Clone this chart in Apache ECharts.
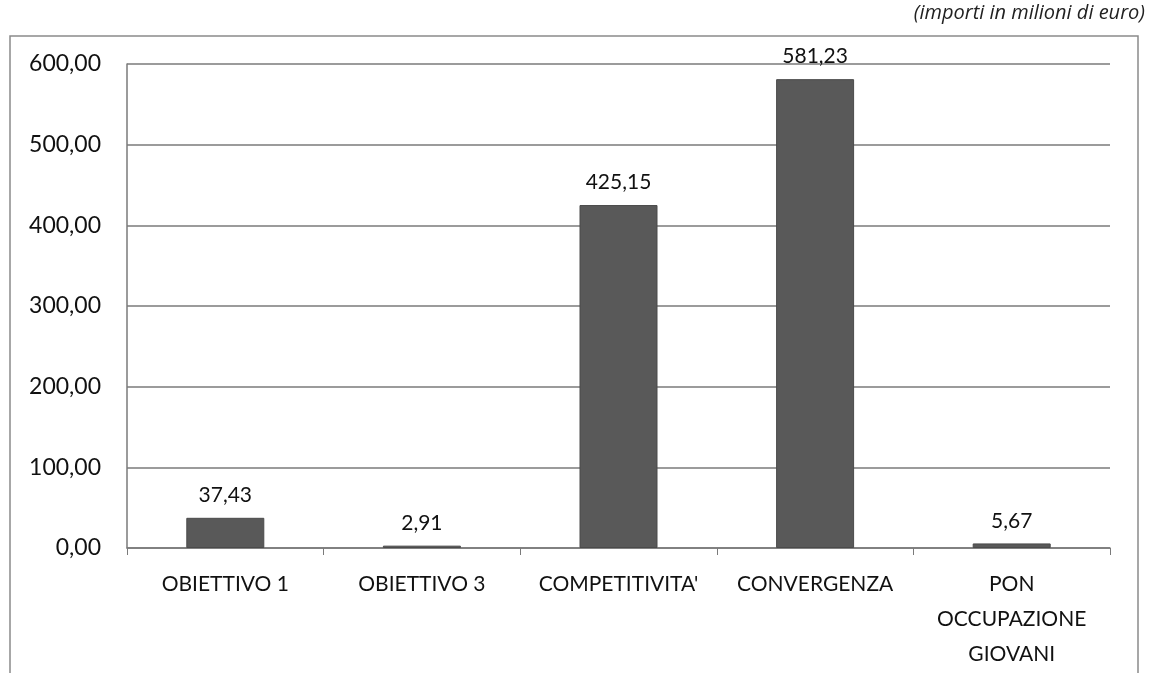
<!DOCTYPE html>
<html><head><meta charset="utf-8">
<script src="https://cdn.jsdelivr.net/npm/echarts@6/dist/echarts.min.js"></script>
<style>html,body{margin:0;padding:0;background:#fff}#c{width:1150px;height:673px}</style>
</head><body><div id="c"></div>
<script>
const categories = ["OBIETTIVO 1", "OBIETTIVO 3", "COMPETITIVITA'", "CONVERGENZA", "PON\nOCCUPAZIONE\nGIOVANI"];
const values = [37.43, 2.91, 425.15, 581.23, 5.67];
const yTicks = [0, 100, 200, 300, 400, 500, 600];
const unitNote = "(importi in milioni di euro)";

const fmt = v => v.toFixed(2).replace('.', ',');
const chart = echarts.init(document.getElementById('c'));
chart.setOption({
  animation: false,
  backgroundColor: '#fff',
  textStyle: { fontFamily: 'Lato, "Open Sans", sans-serif' },
  graphic: [
    { type: 'rect', shape: { x: 10, y: 36, width: 1128, height: 660 }, style: { fill: 'none', stroke: '#8a8a8a', lineWidth: 1.5 }, silent: true },
    { type: 'text', right: 5, top: 3, style: { text: unitNote, font: 'italic 20px "Open Sans", sans-serif', fill: '#222' } }
  ],
  grid: { left: 127, right: 40, top: 64, bottom: 125, containLabel: false },
  xAxis: {
    type: 'category', data: categories,
    axisLine: { lineStyle: { color: '#7a7a7a', width: 1.5 } },
    axisTick: { show: true, length: 7, lineStyle: { color: '#7a7a7a' } },
    axisLabel: { color: '#111', fontSize: 21, lineHeight: 35, margin: 19, interval: 0, fontFamily: 'Lato, sans-serif' }
  },
  yAxis: {
    type: 'value', min: yTicks[0], max: yTicks[yTicks.length - 1], interval: 100,
    axisLine: { show: true, lineStyle: { color: '#7a7a7a', width: 1.5 } },
    axisTick: { show: false },
    splitLine: { lineStyle: { color: '#7a7a7a', width: 1.5 } },
    axisLabel: { color: '#111', fontSize: 23, margin: 26, formatter: v => fmt(v), fontFamily: 'Lato, sans-serif' }
  },
  series: [{
    type: 'bar', data: values, barWidth: 78,
    itemStyle: { color: '#595959', borderColor: '#4a4a4a', borderWidth: 1 },
    label: { show: true, position: 'top', distance: 12, color: '#111', fontSize: 21, formatter: p => fmt(p.value), fontFamily: 'Lato, sans-serif' }
  }]
});
</script></body></html>
